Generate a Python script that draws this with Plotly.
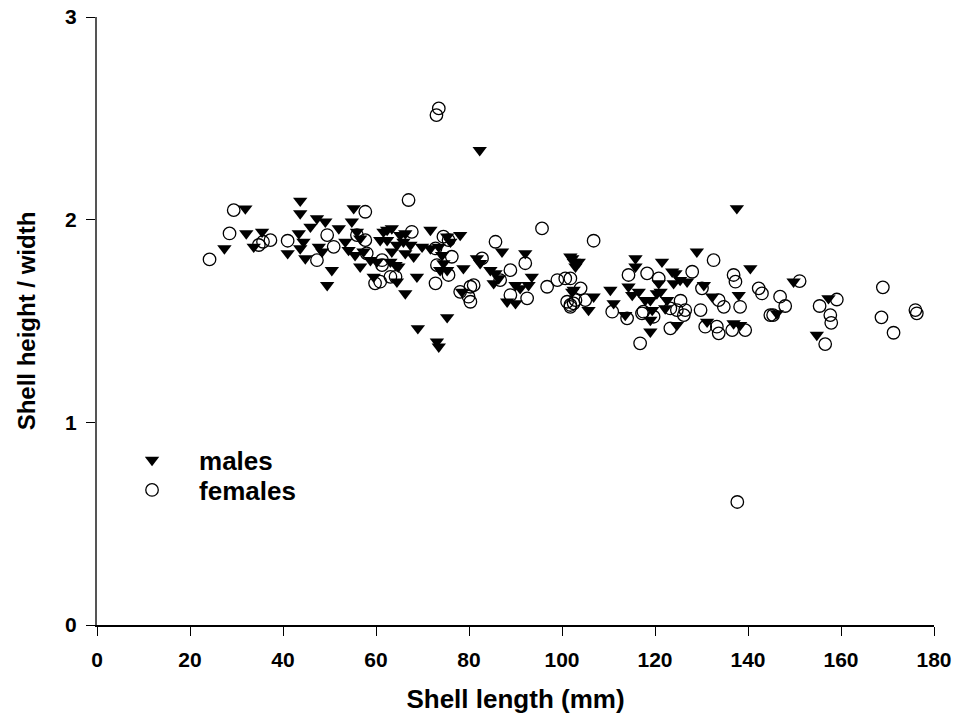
import plotly.graph_objects as go

# Males (filled down-triangles)
male_length = [27.4, 31.9, 32.1, 33.7, 35.5, 41.0, 43.7, 43.7, 43.4, 44.4, 43.7, 44.8, 45.9, 47.3, 49.1,
               47.7, 48.4, 50.5, 49.5, 52.0, 53.4, 55.2, 54.8, 55.9, 56.6, 54.1, 55.5, 57.3, 56.6, 58.8,
               60.2, 59.5, 61.6, 60.9,
               62.4, 63.4, 65.2, 66.3, 71.7, 62.4, 64.5, 65.9, 67.4, 63.4, 66.3, 68.1, 64.2, 63.1, 64.8,
               68.8, 64.5, 66.3, 69.9, 71.7, 73.5, 75.3, 76.0, 78.1, 74.2, 74.5, 73.8, 75.3, 78.8, 75.3,
               69.0, 73.1, 73.5,
               87.1, 92.1, 81.7, 82.4, 84.6, 85.7, 86.4, 85.3, 93.5, 92.8, 90.0, 91.0, 88.2, 90.0, 78.5,
               101.8, 102.5, 102.2, 82.3,
               137.6, 102.2, 103.6, 102.9, 102.5, 106.8, 105.7, 110.4, 111.1, 113.6, 115.8, 115.8, 114.3,
               115.1, 116.5, 121.5, 119.0, 117.9, 119.4, 119.0, 119.0, 120.8, 121.2, 120.4, 122.6, 122.2,
               123.7, 124.4, 124.0, 125.4, 126.9, 129.0, 124.7, 130.5, 132.3, 131.2, 138.0, 140.5, 136.9,
               138.3,
               149.8, 157.3, 146.2, 154.8]
male_ratio = [1.858, 2.055, 1.932, 1.866, 1.940, 1.834, 2.093, 2.031, 1.932, 1.891, 1.858, 1.809, 1.965, 2.006, 1.990,
              1.866, 1.842, 1.751, 1.677, 1.957, 1.891, 2.056, 1.990, 1.940, 1.907, 1.850, 1.825, 1.842, 1.768, 1.800,
              1.792, 1.718, 1.940, 1.899,
              1.949, 1.957, 1.924, 1.932, 1.949, 1.899, 1.875, 1.891, 1.875, 1.842, 1.834, 1.817, 1.776, 1.792, 1.768,
              1.718, 1.694, 1.636, 1.866, 1.858, 1.866, 1.916, 1.891, 1.924, 1.825, 1.784, 1.751, 1.751, 1.760, 1.518,
              1.464, 1.398, 1.373,
              1.842, 1.834, 1.809, 1.785, 1.751, 1.735, 1.710, 1.686, 1.718, 1.677, 1.677, 1.661, 1.595, 1.587, 1.644,
              1.817, 1.792, 1.644, 2.343,
              2.056, 1.809, 1.792, 1.768, 1.653, 1.620, 1.554, 1.653, 1.587, 1.529, 1.809, 1.768, 1.669,
              1.628, 1.644, 1.792, 1.603, 1.603, 1.554, 1.505, 1.447, 1.686, 1.644, 1.636, 1.603, 1.562,
              1.743, 1.735, 1.686, 1.702, 1.694, 1.842, 1.480, 1.677, 1.620, 1.496, 1.628, 1.760, 1.488,
              1.480,
              1.694, 1.612, 1.538, 1.431]

# Females (open circles)
female_length = [24.2, 28.5, 29.4, 34.8, 35.7, 37.3, 41.0, 49.5, 47.3, 50.9, 57.7, 55.9, 57.7, 58.0, 61.3,
                 59.8, 63.1,
                 67.0, 67.7, 61.3, 60.9, 64.2, 72.8, 74.5, 75.6, 76.3, 73.1, 75.6, 72.8, 85.7, 95.7, 92.1,
                 82.8, 88.9, 86.7, 92.5, 88.9, 78.1, 80.3, 79.9, 80.3, 81.0, 96.8, 99.0, 100.7, 101.1, 101.8,
                 102.5,
                 73.5, 73.0,
                 106.8, 101.8, 104.0, 102.9, 105.0, 101.8, 110.8, 114.0, 114.3, 118.3, 120.8, 117.5, 117.2,
                 119.7, 116.8, 128.0, 123.3, 124.7, 126.5, 126.2, 129.8, 123.3, 132.6, 130.1, 133.7, 134.8,
                 130.8, 133.3, 133.7, 136.9, 137.3, 138.3, 136.6, 139.4, 142.3, 143.0, 144.8, 125.5,
                 151.1, 146.9, 148.0, 145.4, 159.1, 155.4, 157.7, 157.9, 156.6, 169.0, 168.7, 171.3, 176.0,
                 176.3,
                 137.7]
female_ratio = [1.804, 1.932, 2.047, 1.875, 1.891, 1.899, 1.896, 1.924, 1.800, 1.866, 2.039, 1.924, 1.899, 1.834, 1.776,
                1.686, 1.718,
                2.097, 1.940, 1.800, 1.694, 1.718, 1.858, 1.916, 1.899, 1.817, 1.776, 1.727, 1.686, 1.891, 1.957, 1.785,
                1.809, 1.751, 1.702, 1.612, 1.628, 1.644, 1.669, 1.620, 1.595, 1.677, 1.669, 1.702, 1.710, 1.595, 1.579,
                1.587,
                2.549, 2.516,
                1.896, 1.710, 1.661, 1.603, 1.603, 1.570, 1.546, 1.513, 1.727, 1.735, 1.710, 1.546, 1.538,
                1.521, 1.390, 1.743, 1.562, 1.554, 1.554, 1.529, 1.554, 1.464, 1.800, 1.661, 1.603, 1.570,
                1.472, 1.472, 1.439, 1.727, 1.694, 1.570, 1.455, 1.455, 1.661, 1.636, 1.529, 1.600,
                1.697, 1.620, 1.574, 1.529, 1.606, 1.574, 1.529, 1.491, 1.386, 1.666, 1.518, 1.442, 1.554,
                1.538,
                0.607]

x_ticks = [0, 20, 40, 60, 80, 100, 120, 140, 160, 180]
y_ticks = [0, 1, 2, 3]

FONT = "Arial, Liberation Sans, sans-serif"
LEG_FONT = dict(family=FONT, size=26, color="black", weight="bold")

fig = go.Figure()
fig.add_trace(go.Scatter(
    x=male_length, y=male_ratio, mode="markers", name="males", legend="legend",
    marker=dict(symbol="triangle-down", size=12.5, color="black", line=dict(width=0)),
))
fig.add_trace(go.Scatter(
    x=female_length, y=female_ratio, mode="markers", name="females", legend="legend2",
    marker=dict(symbol="circle-open", size=12.5, color="black", line=dict(width=1.3, color="black")),
))

fig.update_layout(
    width=959, height=723,
    margin=dict(l=97, r=25, t=17, b=98, autoexpand=False),
    paper_bgcolor="white", plot_bgcolor="white",
    font=dict(family=FONT, color="black", size=21, weight="bold"),
    showlegend=True,
    legend=dict(
        x=0.0096, y=0.2714, xanchor="left", yanchor="middle",
        bgcolor="rgba(0,0,0,0)", borderwidth=0, font=LEG_FONT, itemwidth=84,
    ),
    legend2=dict(
        x=0.0096, y=0.2220, xanchor="left", yanchor="middle",
        bgcolor="rgba(0,0,0,0)", borderwidth=0, font=LEG_FONT, itemwidth=84,
    ),
    xaxis=dict(
        range=[0, 180], tickvals=x_ticks, ticktext=[str(v) for v in x_ticks],
        showgrid=False, zeroline=False, showline=True, linecolor="black", linewidth=1.5,
        ticks="outside", ticklen=9, tickwidth=1.2, tickcolor="black",
        tickfont=dict(family=FONT, size=21, weight="bold"),
        ticklabelstandoff=6,
        title=dict(text="Shell length (mm)", font=dict(family=FONT, size=26, weight="bold"), standoff=20),
        automargin=False,
    ),
    yaxis=dict(
        range=[0, 3], tickvals=y_ticks, ticktext=[str(v) for v in y_ticks],
        showgrid=False, zeroline=False, showline=True, linecolor="#555555", linewidth=2,
        ticks="outside", ticklen=9, tickwidth=1.2, tickcolor="black",
        tickfont=dict(family=FONT, size=21, weight="bold"),
        ticklabelstandoff=5,
        title=dict(text="Shell height / width", font=dict(family=FONT, size=24, weight="bold"), standoff=23),
        automargin=False,
    ),
)

fig.write_html("out.html")
